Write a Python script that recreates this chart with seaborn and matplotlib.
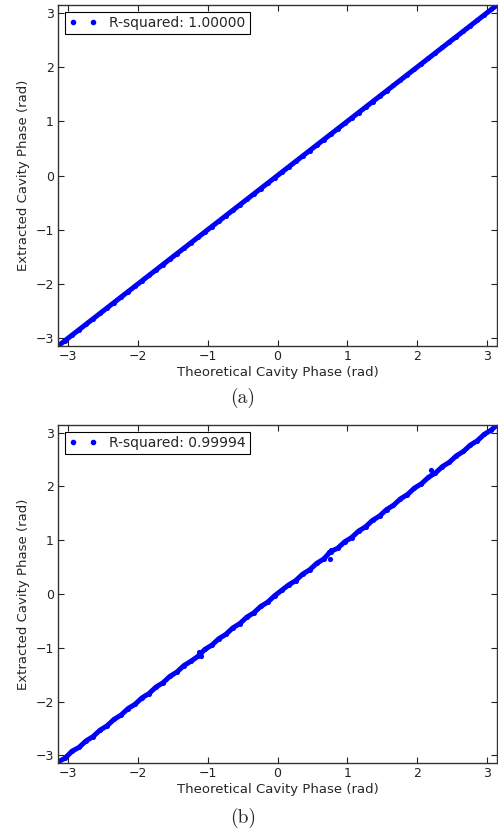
import numpy as np
import pandas as pd
import seaborn as sns
import matplotlib
matplotlib.use("Agg")
import matplotlib.pyplot as plt
from matplotlib.lines import Line2D

theoretical = [-3.14, -3.04, -2.94, -2.84, -2.74, -2.64, -2.54, -2.44, -2.34, -2.24,
               -2.14, -2.04, -1.94, -1.84, -1.74, -1.64, -1.54, -1.44, -1.34, -1.24,
               -1.14, -1.04, -0.94, -0.84, -0.74, -0.64, -0.54, -0.44, -0.34, -0.24,
               -0.14, -0.04, 0.06, 0.16, 0.26, 0.36, 0.46, 0.56, 0.66, 0.76,
               0.86, 0.96, 1.06, 1.16, 1.26, 1.36, 1.46, 1.56, 1.66, 1.76,
               1.86, 1.96, 2.06, 2.16, 2.26, 2.36, 2.46, 2.56, 2.66, 2.76,
               2.86, 2.96, 3.06, 3.14]
extracted_a = [-3.14, -3.04, -2.94, -2.84, -2.74, -2.64, -2.54, -2.44, -2.34, -2.24,
               -2.14, -2.04, -1.94, -1.84, -1.74, -1.64, -1.54, -1.44, -1.34, -1.24,
               -1.14, -1.04, -0.94, -0.84, -0.74, -0.64, -0.54, -0.44, -0.34, -0.24,
               -0.14, -0.04, 0.06, 0.16, 0.26, 0.36, 0.46, 0.56, 0.66, 0.76,
               0.86, 0.96, 1.06, 1.16, 1.26, 1.36, 1.46, 1.56, 1.66, 1.76,
               1.86, 1.96, 2.06, 2.16, 2.26, 2.36, 2.46, 2.56, 2.66, 2.76,
               2.86, 2.96, 3.06, 3.14]
extracted_b = [-3.12, -3.05, -2.92, -2.85, -2.73, -2.65, -2.53, -2.45, -2.33, -2.25,
               -2.13, -2.05, -1.93, -1.85, -1.73, -1.65, -1.53, -1.45, -1.33, -1.25,
               -1.16, -1.03, -0.95, -0.83, -0.75, -0.63, -0.55, -0.43, -0.35, -0.23,
               -0.15, -0.03, 0.07, 0.17, 0.25, 0.37, 0.45, 0.57, 0.65, 0.79,
               0.85, 0.97, 1.05, 1.17, 1.25, 1.37, 1.45, 1.57, 1.65, 1.77,
               1.85, 1.97, 2.05, 2.17, 2.25, 2.37, 2.45, 2.57, 2.65, 2.77,
               2.85, 2.97, 3.05, 3.14]
outlier_x = [-1.09, -1.12, 0.75, 0.77, 0.73, 2.20]
outlier_y = [-1.15, -1.08, 0.66, 0.82, 0.78, 2.30]
r2_labels = ["R-squared: 1.00000", "R-squared: 0.99994"]
panel_labels = ["(a)", "(b)"]
ticks = [-3, -2, -1, 0, 1, 2, 3]

sns.set_style("white")
plt.rcParams.update({
    "font.family": ["DejaVu Sans"],
    "xtick.direction": "in", "ytick.direction": "in",
    "xtick.top": True, "ytick.right": True,
    "xtick.bottom": True, "ytick.left": True,
    "xtick.major.size": 4, "ytick.major.size": 4,
    "xtick.color": "#222222", "ytick.color": "#222222",
    "axes.edgecolor": "#333333", "axes.linewidth": 1.0,
    "axes.unicode_minus": True,
})

fig = plt.figure(figsize=(4.98, 8.31), dpi=100)
ax_a = fig.add_axes([0.1165, 0.5836, 0.8815, 0.4103])
ax_b = fig.add_axes([0.1165, 0.0818, 0.8815, 0.4067])

df_a = pd.DataFrame({"theo": theoretical, "ext": extracted_a})
df_b = pd.DataFrame({"theo": theoretical, "ext": extracted_b})
df_o = pd.DataFrame({"theo": outlier_x, "ext": outlier_y})

for ax, df, lab in [(ax_a, df_a, r2_labels[0]), (ax_b, df_b, r2_labels[1])]:
    sns.lineplot(data=df, x="theo", y="ext", sort=False, ax=ax, color="blue",
                 linewidth=3.6, marker="o", markersize=3.6, markeredgewidth=0,
                 legend=False)
    if ax is ax_b:
        sns.scatterplot(data=df_o, x="theo", y="ext", ax=ax, color="blue",
                        s=14, edgecolor="blue", linewidth=0, legend=False)
    ax.set_xlim(-np.pi, np.pi)
    ax.set_ylim(-np.pi, np.pi)
    ax.set_xticks(ticks)
    ax.set_yticks(ticks)
    ax.tick_params(labelsize=9, pad=3)
    ax.set_xlabel("Theoretical Cavity Phase (rad)", fontsize=9.5, labelpad=2)
    ax.set_ylabel("Extracted Cavity Phase (rad)", fontsize=9.5, labelpad=4)
    h = Line2D([], [], linestyle="", marker="o", markersize=3, color="blue")
    leg = ax.legend(handles=[h], labels=[lab], loc="upper left", numpoints=2,
                    fontsize=10, fancybox=False, framealpha=1, edgecolor="black",
                    borderaxespad=0.5, handletextpad=0.9, borderpad=0.3)
    leg.get_frame().set_linewidth(0.8)

fig.text(0.488, 1 - 398 / 831, panel_labels[0], ha="center", va="center",
         fontsize=14, family="cmr10")
fig.text(0.488, 1 - 818 / 831, panel_labels[1], ha="center", va="center",
         fontsize=14, family="cmr10")

fig.savefig("out.png", dpi=100)
